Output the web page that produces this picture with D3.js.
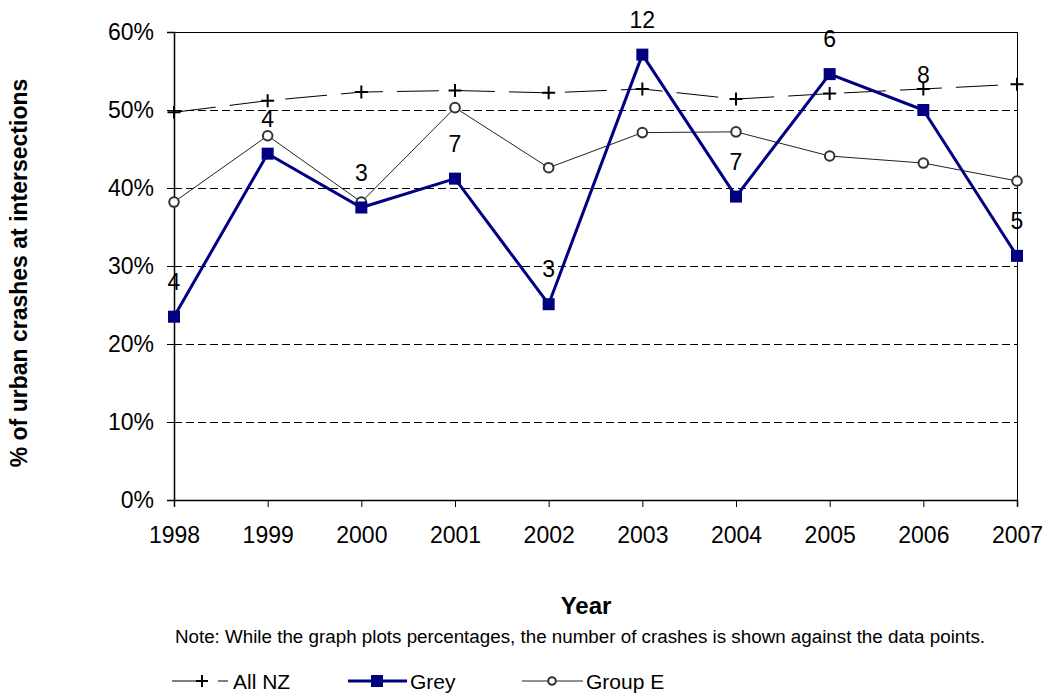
<!DOCTYPE html>
<html><head><meta charset="utf-8">
<script src="https://cdn.jsdelivr.net/npm/d3@7"></script>
<style>body{margin:0;background:#fff;} text{font-family:Arial,"Liberation Sans",sans-serif;}</style>
</head><body>
<svg id="c" width="1048" height="697"></svg>
<script>
const years = ["1998","1999","2000","2001","2002","2003","2004","2005","2006","2007"];
const allNZ = [0.497,0.512,0.523,0.525,0.522,0.527,0.514,0.521,0.527,0.533];
const grey = [0.235,0.444,0.375,0.412,0.251,0.571,0.389,0.546,0.500,0.313];
const groupE = [0.382,0.467,0.382,0.503,0.426,0.471,0.472,0.441,0.432,0.409];
const greyCounts = ["4","4","3","7","3","12","7","6","8","5"];
const yTicks = [0,0.1,0.2,0.3,0.4,0.5,0.6];

const svg = d3.select("#c");
const L=174, R=1017, T=32, B=500;
const x = d3.scalePoint().domain(years).range([L,R]);
const y = d3.scaleLinear().domain([0,0.6]).range([B,T]);
const FF = "Arial, Liberation Sans, sans-serif";

// gridlines
svg.append("g").selectAll("line").data(yTicks.filter(d=>d>0&&d<0.6)).join("line")
  .attr("x1",L).attr("x2",R).attr("y1",d=>y(d)+0.5).attr("y2",d=>y(d)+0.5)
  .attr("stroke","#000").attr("stroke-width",1).attr("stroke-dasharray","8,4");
// top & right border
svg.append("line").attr("x1",L).attr("x2",R).attr("y1",y(0.6)+0.5).attr("y2",y(0.6)+0.5).attr("stroke","#000");
svg.append("line").attr("x1",R+0.5).attr("x2",R+0.5).attr("y1",T).attr("y2",B).attr("stroke","#000");

const yAxis = svg.append("g").attr("transform",`translate(${L},0)`)
  .call(d3.axisLeft(y).tickValues(yTicks).tickFormat(d3.format(".0%")).tickSize(7).tickPadding(13));
const xAxis = svg.append("g").attr("transform",`translate(0,${B})`)
  .call(d3.axisBottom(x).tickSize(7).tickPadding(20));
[yAxis,xAxis].forEach(a=>{
  a.select(".domain").attr("stroke","#000").attr("stroke-width",1.5);
  a.selectAll(".tick line").attr("stroke","#000");
  a.selectAll("text").attr("font-size",23).attr("fill","#000").attr("font-family",FF);
});

// All NZ
svg.append("path").datum(allNZ)
  .attr("d",d3.line().x((d,i)=>x(years[i])).y(d=>y(d)))
  .attr("fill","none").attr("stroke","#000").attr("stroke-width",1).attr("stroke-dasharray","42,14");
svg.append("g").selectAll("path").data(allNZ).join("path")
  .attr("d",(d,i)=>`M${x(years[i])-6.5},${y(d)}h13M${x(years[i])},${y(d)-6.5}v13`)
  .attr("stroke","#000").attr("stroke-width",2);

// Group E
svg.append("path").datum(groupE)
  .attr("d",d3.line().x((d,i)=>x(years[i])).y(d=>y(d)))
  .attr("fill","none").attr("stroke","#222").attr("stroke-width",1);
svg.append("g").selectAll("circle").data(groupE).join("circle")
  .attr("cx",(d,i)=>x(years[i])).attr("cy",d=>y(d)).attr("r",4.8)
  .attr("fill","#fff").attr("stroke","#333").attr("stroke-width",2);

// Grey
svg.append("path").datum(grey)
  .attr("d",d3.line().x((d,i)=>x(years[i])).y(d=>y(d)))
  .attr("fill","none").attr("stroke","#000080").attr("stroke-width",3);
svg.append("g").selectAll("rect").data(grey).join("rect")
  .attr("x",(d,i)=>x(years[i])-6).attr("y",d=>y(d)-6).attr("width",12).attr("height",12)
  .attr("fill","#000080");
svg.append("g").selectAll("text").data(grey).join("text")
  .attr("x",(d,i)=>x(years[i])).attr("y",d=>y(d)-27)
  .attr("text-anchor","middle").attr("font-size",23).attr("fill","#000")
  .text((d,i)=>greyCounts[i]);

// axis titles
svg.append("text").attr("transform","translate(27,273) rotate(-90)")
  .attr("text-anchor","middle").attr("font-size",23).attr("font-weight","bold").text("% of urban crashes at intersections");
svg.append("text").attr("x",586).attr("y",614).attr("text-anchor","middle")
  .attr("font-size",24).attr("font-weight","bold").text("Year");
svg.append("text").attr("x",580).attr("y",643).attr("text-anchor","middle")
  .attr("font-size",18.8).text("Note: While the graph plots percentages, the number of crashes is shown against the data points.");

// legend
const ly = 681;
const lg = svg.append("g");
lg.append("line").attr("x1",172).attr("x2",200).attr("y1",ly).attr("y2",ly).attr("stroke","#000");
lg.append("path").attr("d",`M${196},${ly}h12M${202},${ly-6}v12`).attr("stroke","#000").attr("stroke-width",2);
lg.append("line").attr("x1",218).attr("x2",228).attr("y1",ly).attr("y2",ly).attr("stroke","#000");
lg.append("text").attr("x",233).attr("y",ly+8).attr("font-size",21).text("All NZ");

lg.append("line").attr("x1",348).attr("x2",407).attr("y1",ly).attr("y2",ly).attr("stroke","#000080").attr("stroke-width",3);
lg.append("rect").attr("x",371).attr("y",ly-6).attr("width",12).attr("height",12).attr("fill","#000080");
lg.append("text").attr("x",410).attr("y",ly+8).attr("font-size",21).text("Grey");

lg.append("line").attr("x1",522).attr("x2",583).attr("y1",ly).attr("y2",ly).attr("stroke","#222");
lg.append("circle").attr("cx",552).attr("cy",ly).attr("r",3.8).attr("fill","#fff").attr("stroke","#333").attr("stroke-width",2);
lg.append("text").attr("x",586).attr("y",ly+8).attr("font-size",21).text("Group E");
</script>
</body></html>
